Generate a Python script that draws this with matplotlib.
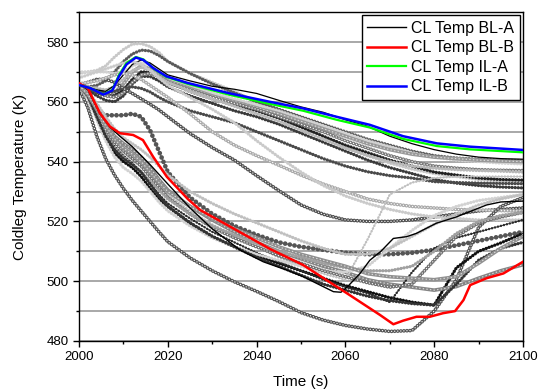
import numpy as np
import matplotlib.pyplot as plt

plt.rcParams['font.family'] = ['Liberation Sans', 'DejaVu Sans']
plt.rcParams['lines.scale_dashes'] = False

# ------------------------------------------------------------------
# main curves
# ------------------------------------------------------------------
t_il = [2000, 2002.5, 2005.5, 2007.5, 2009, 2010.7, 2012.8, 2014.5, 2016.7, 2019.7,
        2024.5, 2034, 2043, 2050.5, 2058, 2065.5, 2073, 2080.6, 2088, 2100]
il_b = [565.6, 564.6, 562.4, 563.8, 568.5, 572.5, 574.8, 574.0, 571.3, 568.5,
        566.3, 562.8, 560.0, 557.8, 555.0, 552.3, 548.5, 546.1, 545.0, 543.9]
il_a = [565.6, 564.6, 562.5, 564.0, 569.0, 573.0, 575.0, 574.2, 571.2, 568.3,
        566.0, 562.3, 559.3, 557.0, 554.0, 551.4, 547.6, 545.2, 544.1, 543.1]

t_blb = [2000, 2002, 2004.7, 2007, 2009.2, 2012.2, 2014.4, 2016.7, 2019.8, 2024.5,
         2027.3, 2034.7, 2043, 2050.5, 2060.3, 2067.8, 2070.8, 2073, 2076, 2079,
         2082, 2084.7, 2086.6, 2088.1, 2091.8, 2095.6, 2100]
bl_b = [566.2, 564.5, 556.2, 551.7, 549.5, 548.9, 547.2, 541.6, 534.9, 527.5,
        523.8, 517.7, 510.8, 505.4, 496.0, 488.7, 485.6, 486.8, 488.1, 488.1,
        489.3, 490.0, 493.7, 498.7, 501.0, 502.6, 506.5]

t_bla = [2000, 2002, 2004.7, 2007, 2009.2, 2012, 2016, 2020, 2025, 2030, 2036.3,
         2041.5, 2046.8, 2050.5, 2054.3, 2057.3, 2059, 2060.5, 2063.3, 2065.5, 2068,
         2070.8, 2073.8, 2076, 2080.5, 2085, 2091.8, 2095, 2100]
bl_a = [566.0, 564.0, 556.0, 551.5, 548.5, 545.0, 539.0, 532.5, 524.5, 517.5, 510.4,
        506.5, 503.7, 501.5, 498.7, 496.5, 496.3, 498.2, 502.6, 507.0, 510.0,
        514.3, 514.9, 516.0, 519.4, 521.5, 525.5, 526.5, 526.8]

# ------------------------------------------------------------------
# background runs, all on one time grid
# ------------------------------------------------------------------
t_runs = [2000, 2002, 2004, 2006, 2008, 2010, 2012, 2014, 2016, 2018, 2020, 2025, 2030,
          2035, 2040, 2045, 2050, 2055, 2060, 2065, 2070, 2075, 2080, 2085, 2090, 2095, 2100]

runs = {
    # upper bundle
    'u1': [569.5, 570, 570.5, 572, 575, 577.5, 579.3, 579.5, 578.5, 576.5, 573.5, 569.5, 566.5,
           563.5, 560, 556.5, 552.5, 548.5, 545, 542, 539.5, 537.5, 536, 535, 534, 533.5, 533],
    'u2': [565.5, 565, 565.5, 567, 570, 573.5, 576, 577.3, 577, 575.5, 573.5, 569.5, 566,
           563, 560, 557.5, 555, 552.5, 550, 547.5, 545.5, 543.5, 542, 541.2, 540.8, 540.5, 540.3],
    'u3': [570, 570, 570, 570, 569.5, 570, 572, 573, 572.5, 570.5, 568.5, 565.5, 563,
           561, 559, 557, 554.5, 552, 549.5, 547, 545, 543, 541.5, 540.5, 540, 539.5, 539.2],
    'u4': [565.5, 564.8, 563.5, 562.5, 563, 566, 570, 572, 571, 569, 567, 564.5, 562,
           560, 558, 556, 553.5, 551, 548.5, 546, 544, 542.5, 541.5, 541, 540.5, 540.2, 540],
    'u5': [565.5, 564.8, 563, 562, 562, 564, 567.5, 570, 570, 568.5, 566.5, 563.5, 561,
           559, 557, 554.5, 551.5, 548.5, 545.5, 543, 540.5, 538.5, 536.5, 535.5, 534.5, 534, 533.8],
    'u6': [565, 564, 562, 560.5, 560, 562, 566, 568.5, 568.5, 567, 565, 562, 559.5,
           557, 555, 552.5, 549.5, 546.5, 543.5, 540.5, 538, 536, 534, 532.8, 532, 531.5, 531.2],
    'u7': [565.5, 564.8, 563.5, 562, 561.5, 563, 566.5, 569, 569.5, 568.5, 566.5, 564, 561.5,
           559.5, 557.5, 555, 552.5, 550, 547, 544.5, 542, 540, 538.5, 537.8, 537.3, 537.1, 537],
    'u8': [565.5, 565, 564.5, 564, 565, 567.5, 570.5, 571.5, 570.5, 568.5, 566.5, 563.5, 561,
           558.5, 556, 553.5, 550.5, 547.5, 544.5, 542, 540, 538.5, 537.8, 537.3, 537, 536.8, 536.5],
    'u9': [565.5, 564.5, 563.5, 563, 563.5, 564.5, 565, 564.5, 563.3, 561.5, 560, 557, 555,
           553, 550, 547, 544, 541, 538.5, 536.6, 535.3, 534.5, 533.3, 533, 532.8, 532.7, 532.6],
    'uk': [565.5, 564.8, 564, 563.5, 565.5, 569, 572.5, 574, 573, 571, 569, 567, 565.2,
           564.2, 562.8, 560.5, 558.3, 556.5, 554, 551.8, 548.5, 546, 544, 542.5, 541.5, 541, 540.8],
    # runs that fall away from the upper bundle
    'd1': [565.5, 566.5, 567.5, 567.5, 566.5, 564.5, 562.8, 561, 559.2, 557.3, 555, 549.4, 544.7,
           540.5, 535.3, 530.3, 525.5, 522.4, 520.5, 520, 520, 520.5, 521.5, 522.5, 523.5, 524, 524.5],
    'd2': [566, 566.5, 567, 568, 569, 569.5, 569, 567.5, 565.5, 563.5, 561.5, 556, 550,
           545.5, 542, 538.8, 535.5, 532.5, 530, 527.5, 526, 525, 524.5, 524, 523.8, 523.6, 523.5],
    'd3': [568, 569, 570, 571, 572, 573, 573.5, 572.5, 570.5, 568, 565.5, 561.5, 557.5,
           553, 547, 541.5, 536.5, 532, 528.5, 526, 524, 522.5, 521.5, 521, 520.5, 520.5, 520.5],
    'd4': [565.5, 562.5, 557, 555.5, 555.5, 555.5, 556, 555, 550.5, 543.5, 536.5, 528, 522.5,
           518.5, 515.5, 513, 511.5, 510.5, 509.5, 509, 509, 509.5, 510.5, 512, 513.5, 515, 516.5],
    # lower bundle
    'l0': [564.5, 558, 548.5, 541, 535.5, 531, 527, 523.5, 520, 516.5, 513.2, 507.8, 503.5,
           499.8, 496.6, 493.2, 489.5, 487, 485.2, 484, 483.2, 483.5, 490, 500.5, 518, 525, 528],
    'l1': [565.5, 562, 555, 548, 543, 540, 538, 535, 531, 527.5, 525, 519.5, 515,
           511.5, 508.5, 506, 503.5, 501, 498.5, 496.5, 494.5, 493, 492, 504.5, 510, 512.8, 516],
    'l2': [565.5, 562.5, 556, 549.5, 545, 542, 539.5, 536.5, 532.5, 529, 526, 521, 516.5,
           513, 509.5, 506.5, 503.5, 500.5, 498, 496, 493, 503, 511, 514.5, 516.5, 518.5, 520.5],
    'l3': [565.5, 563, 558, 552.5, 548.5, 546, 544, 541.5, 538, 534, 530.5, 525, 520.5,
           516.5, 513, 510, 507.5, 505, 503, 500.5, 499, 498, 497, 498.2, 501, 503.5, 505.5],
    'l5': [565.5, 562, 556, 550, 546, 543.5, 541.5, 539, 535.5, 532, 529, 523.5, 519,
           515, 511.5, 508, 505, 502.5, 500.5, 514, 529, 533, 534.5, 535, 535, 535, 535],
    'l6': [565, 561, 554, 547, 541.5, 538, 536, 533.5, 530, 526.5, 523.5, 518.5, 514.5,
           511.5, 509, 507, 505, 503.5, 503, 505, 511, 517, 522, 525, 527, 528, 529],
    'l7': [565.5, 562.5, 556.5, 550.5, 546.5, 543.5, 541, 538.5, 535, 531.5, 528, 522.5, 518,
           514.5, 511.5, 508.5, 506, 503.5, 501.5, 499.5, 498, 499, 507, 515, 519.5, 521.5, 523],
    'l8': [565, 561.5, 555, 549, 544.5, 541.5, 539, 536.5, 533.5, 530.5, 527.5, 522.5, 518.5,
           515.5, 512.5, 510, 508, 506, 504.5, 503.5, 503.5, 505, 510, 516, 520, 522, 523],
    'l9': [565.5, 562, 555, 548.5, 544, 541, 539, 536.5, 532.5, 528.5, 525, 519.5, 515,
           511.5, 508, 505, 502, 499, 497, 495, 493.5, 492.5, 492, 499, 507, 511, 513],
    'l10': [565, 563.5, 559.5, 555, 551, 548, 546, 544, 541.5, 538.5, 535.5, 530, 526,
            522.5, 519.5, 516.5, 513.5, 511, 509, 509, 511, 515, 519, 522.5, 525.5, 527.5, 529],
    'l11': [565.5, 562.5, 557.5, 552, 547.5, 544.5, 542.5, 540, 536.5, 533, 530, 525, 521,
            517.5, 514.5, 511.5, 509, 507, 505, 502.5, 501.5, 501, 500.5, 501.5, 506, 511, 515],
}

# look of each run: colour and kind of bead chain
run_style = {
    'u1': ('#c8c8c8', 'dots'), 'u2': ('#5a5a5a', 'dots'), 'u3': ('#d2d2d2', 'dots'),
    'u4': ('#999999', 'band'), 'u5': ('#222222', 'dots'), 'u6': ('#3a3a3a', 'dots'),
    'u7': ('#7a7a7a', 'rings'), 'u8': ('#b8b8b8', 'dots'), 'u9': ('#4a4a4a', 'dots'),
    'uk': ('#000000', 'line'),
    'd1': ('#505050', 'rings'), 'd2': ('#aaaaaa', 'rings'), 'd3': ('#cacaca', 'dots'),
    'd4': ('#555555', 'bigdots'),
    'l0': ('#555555', 'rings'), 'l1': ('#111111', 'dots'), 'l2': ('#2a2a2a', 'thin'),
    'l3': ('#858585', 'band'), 'l5': ('#c0c0c0', 'thin'), 'l6': ('#d2d2d2', 'dots'),
    'l7': ('#707070', 'rings'), 'l8': ('#a0a0a0', 'dots'), 'l9': ('#333333', 'dots'),
    'l10': ('#c0c0c0', 'dots'), 'l11': ('#909090', 'band'),
}

fig, ax = plt.subplots(figsize=(5.39, 3.91), dpi=100)
fig.subplots_adjust(left=0.1466, right=0.9703, bottom=0.1279, top=0.969)

# grid lines every 10 K
ax.set_yticks(np.arange(480, 591, 20))
ax.set_yticks(np.arange(490, 591, 20), minor=True)
ax.yaxis.grid(True, which='both', color='#9a9a9a', linewidth=1.2, zorder=0)
ax.set_axisbelow(True)

beads = (0, (0.01, 2.2))
for name, vals in runs.items():
    col, kind = run_style[name]
    if kind == 'line':
        ax.plot(t_runs, vals, color=col, lw=0.9, zorder=2)
    elif kind == 'thin':
        ax.plot(t_runs, vals, color=col, lw=0.6, zorder=2)
        ax.plot(t_runs, vals, color=col, lw=1.8, ls=beads, dash_capstyle='round', zorder=2)
    elif kind == 'dots':
        ax.plot(t_runs, vals, color=col, lw=0.6, zorder=2)
        ax.plot(t_runs, vals, color=col, lw=2.4, ls=beads, dash_capstyle='round', zorder=2)
    elif kind == 'bigdots':
        ax.plot(t_runs, vals, color=col, lw=0.7, zorder=2)
        ax.plot(t_runs, vals, color=col, lw=3.4, ls=(0, (0.01, 3.4)), dash_capstyle='round', zorder=2)
    elif kind == 'rings':
        ax.plot(t_runs, vals, color=col, lw=2.7, ls=beads, dash_capstyle='round', zorder=2)
        ax.plot(t_runs, vals, color='white', lw=1.0, ls=beads, dash_capstyle='round', zorder=2)
    elif kind == 'band':
        ax.plot(t_runs, vals, color=col, lw=2.6, zorder=2)
        ax.plot(t_runs, vals, color='#dddddd', lw=0.8, ls=(0, (1.0, 1.6)), zorder=2)

ax.plot(t_bla, bl_a, color='black', lw=1.0, label='CL Temp BL-A', zorder=5)
ax.plot(t_blb, bl_b, color='#ff0000', lw=1.8, label='CL Temp BL-B', zorder=6)
ax.plot(t_il, il_a, color='#00ff00', lw=1.6, label='CL Temp IL-A', zorder=6)
ax.plot(t_il, il_b, color='#0000ff', lw=1.8, label='CL Temp IL-B', zorder=7)

ax.set_xlim(2000, 2100)
ax.set_ylim(480, 590)
ax.set_xticks(np.arange(2000, 2101, 20))
ax.set_xticks(np.arange(2010, 2100, 20), minor=True)
ax.tick_params(which='major', direction='out', length=4, width=1, labelsize=9.5)
ax.tick_params(which='minor', direction='out', length=2.5, width=1)
ax.tick_params(axis='y', which='minor', labelleft=False)
for sp in ax.spines.values():
    sp.set_linewidth(1.0)

ax.set_xlabel('Time (s)', fontsize=11, labelpad=8)
ax.set_ylabel('Coldleg Temperature (K)', fontsize=11, labelpad=14)

leg = ax.legend(loc='upper right', fontsize=11.5, frameon=True, fancybox=False,
                edgecolor='black', framealpha=1, borderaxespad=0.2, handlelength=2.4,
                handletextpad=0.35, labelspacing=0.28, borderpad=0.35)
leg.get_frame().set_linewidth(1.0)
leg.set_zorder(10)

plt.savefig('out.png', dpi=100)
